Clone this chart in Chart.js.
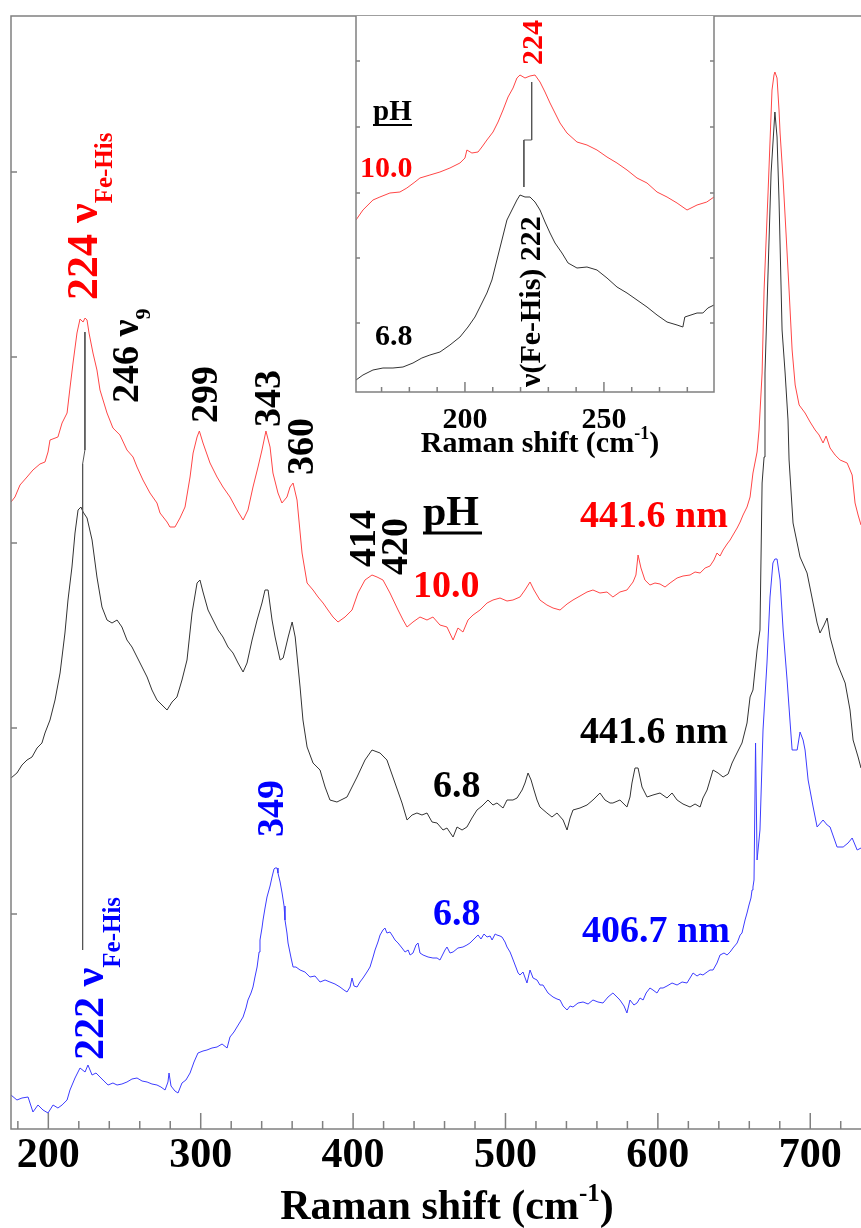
<!DOCTYPE html>
<html>
<head>
<meta charset="utf-8">
<script src="https://cdn.jsdelivr.net/npm/chart.js@4.4.0/dist/chart.umd.min.js"></script>
<style>
  html, body { margin: 0; padding: 0; background: #fff; }
  #wrap { position: relative; width: 861px; height: 1228px; }
  #wrap canvas { position: absolute; left: 0; top: 0; }
</style>
</head>
<body>
<div id="wrap">
  <canvas id="mainChart" width="861" height="1228"></canvas>
  <canvas id="insetChart" width="861" height="1228"></canvas>
</div>
<script>
// Raman shift (cm-1) and intensity (arb. units, spectra stacked with offsets)
const redShift = [175.5,178.1,181.4,186.0,189.9,194.5,197.8,199.8,201.1,206.3,209.0,212.3,214.2,216.2,218.8,220.8,222.8,224.1,225.4,226.7,229.3,231.9,233.9,238.5,242.4,247.0,251.6,255.6,258.2,262.1,266.7,271.3,273.3,277.9,279.8,283.1,286.4,289.7,293.0,295.0,297.6,299.1,301.5,306.1,310.7,314.6,319.2,323.8,327.8,331.0,334.3,337.6,340.2,342.8,345.5,347.4,350.7,353.3,356.6,358.6,360.6,363.2,366.5,369.8,373.7,377.0,380.3,383.5,386.8,390.1,394.7,399.3,403.2,407.8,412.4,415.7,419.6,424.2,429.5,432.8,435.4,439.3,443.9,448.5,452.4,457.0,461.6,465.6,468.8,472.1,475.4,478.7,483.3,487.9,491.8,496.4,501.0,504.9,509.5,512.8,516.1,518.7,522.6,527.2,531.2,535.8,540.4,544.3,548.9,553.5,557.4,562.0,566.6,570.5,575.1,579.7,583.7,585.6,587.0,588.9,591.5,594.8,598.1,601.4,604.7,608.0,612.6,616.5,621.1,624.4,627.7,631.0,634.2,636.8,638.8,640.8,642.8,645.4,647.4,649.3,652.0,654.0,655.9,658.5,660.5,662.4,665.1,666.4,668.4,669.7,672.3,674.9,676.2,676.8,678.2,679.5,680.2,682.2,684.1,686.1,688.1,690.1,692.7,696.6,699.9,703.2,705.8,708.4,710.4,713.0,716.3,719.6,724.2,727.5,729.4,731.4,733.3];
const redInt = [627,632,644,652,659,665,667,677,689,692,706,716,741,766,796,810,807,811,809,796,776,759,739,716,701,694,679,672,662,649,636,626,616,607,602,602,611,622,652,676,692,698,686,666,652,642,632,619,609,619,642,662,679,698,682,656,636,626,632,642,646,629,576,546,539,532,526,519,512,507,512,519,536,549,554,552,549,536,519,509,502,507,512,509,512,504,502,489,501,497,509,514,519,526,529,531,528,529,532,539,547,539,529,524,521,519,525,529,533,537,539,536,537,532,537,539,547,554,574,561,549,544,546,545,542,546,551,553,554,557,556,561,563,569,576,573,579,585,589,594,601,607,614,622,632,656,677,699,756,839,936,1039,1054,1057,1051,1019,996,949,896,839,779,744,724,716,707,699,694,686,693,681,674,669,666,654,626,614,604];

const blackShift = [175.5,179.4,182.7,186.0,189.3,192.6,195.8,197.8,201.1,204.4,207.7,210.9,212.9,215.5,217.5,219.5,221.4,222.8,225.4,228.7,231.9,235.2,238.5,241.8,245.1,248.3,251.6,254.9,258.2,261.5,264.8,268.0,271.3,274.6,277.9,281.2,284.4,287.7,291.0,294.3,297.6,299.5,301.5,304.8,308.1,311.4,314.6,317.9,321.2,324.5,327.8,330.4,333.7,337.0,340.2,342.2,344.2,346.8,348.8,352.1,354.1,357.4,360.0,362.0,365.2,367.1,369.8,373.7,378.3,381.6,384.8,389.4,396.0,402.6,407.8,412.4,417.7,422.2,427.5,432.1,435.4,438.7,441.9,445.2,448.5,451.8,455.1,459.0,461.6,465.6,468.2,471.5,474.7,478.0,481.3,484.6,488.5,491.8,494.4,498.4,501.0,504.9,507.6,510.9,512.8,514.8,516.8,518.7,520.7,522.6,527.2,530.5,533.8,537.8,540.4,542.4,544.3,548.9,553.5,557.4,562.0,565.3,568.6,570.5,575.1,579.7,581.7,583.0,585.0,587.0,589.6,592.9,596.8,601.4,606.0,609.3,612.6,616.5,621.1,624.4,627.7,629.6,632.3,636.2,639.5,642.8,646.1,648.7,650.6,655.2,658.5,660.5,662.4,665.1,667.0,668.4,669.7,670.3,672.3,674.3,676.8,678.2,679.5,681.5,683.5,685.4,686.1,688.7,693.3,697.9,701.2,704.5,706.4,709.1,711.1,713.0,717.6,722.9,726.1,728.1,731.4,733.3];
const blackInt = [351,356,364,369,372,381,386,396,409,429,456,496,529,562,596,619,622,617,611,589,552,522,509,506,509,502,489,482,472,462,452,439,429,424,419,427,432,449,469,516,546,549,537,519,509,499,492,482,476,466,457,466,489,509,526,539,539,509,492,469,471,492,507,492,442,409,382,366,359,342,329,327,332,352,369,379,376,369,346,326,309,314,316,314,316,307,306,299,301,292,302,299,302,311,319,323,329,324,326,321,329,329,331,339,346,356,349,339,329,322,316,312,316,309,299,311,319,321,324,329,336,329,326,326,329,322,332,346,361,361,342,332,334,336,331,336,329,325,322,325,322,331,339,359,356,352,355,366,372,386,406,432,439,479,499,646,672,756,856,956,1017,992,929,799,756,709,669,606,572,556,531,506,496,504,511,492,466,446,419,389,372,361];

const blueShift = [175.5,179.4,182.7,186.7,189.9,193.2,196.5,199.8,203.1,206.3,209.0,212.3,214.2,217.5,220.8,224.1,226.0,228.7,231.3,233.9,236.5,239.2,242.4,245.1,248.3,251.6,254.9,258.2,261.5,264.8,268.0,271.3,273.9,276.6,278.5,279.2,280.5,283.1,285.1,287.7,290.3,293.0,295.6,298.2,301.5,304.1,307.4,310.7,314.0,317.3,319.2,321.8,323.8,325.8,327.8,329.7,331.0,333.0,334.3,335.6,337.0,338.3,338.9,340.2,340.9,342.2,343.5,345.5,346.8,348.1,348.8,350.1,350.7,352.1,353.4,354.7,355.3,356.6,357.3,359.3,360.6,362.5,365.2,368.4,371.7,375.0,378.3,381.6,384.8,388.1,391.4,394.0,396.0,398.0,399.3,400.6,402.6,404.5,406.5,409.1,411.1,413.1,414.4,416.3,417.7,419.6,420.9,422.2,424.2,425.5,427.5,429.5,432.1,434.1,436.1,437.4,439.3,441.3,442.6,443.9,445.9,449.2,452.4,455.1,457.0,460.3,461.6,463.6,465.6,468.8,472.1,474.7,476.7,480.0,482.0,483.9,485.9,487.9,489.9,491.2,493.2,494.4,496.4,497.7,499.7,501.0,503.0,504.3,506.3,508.3,509.5,511.5,514.1,516.1,518.1,520.7,522.6,524.6,527.9,531.2,533.8,535.8,537.8,540.4,542.4,544.3,547.6,550.9,554.2,557.4,560.7,564.0,567.3,570.5,573.2,575.1,577.8,579.7,581.7,584.3,586.3,588.3,590.3,592.3,594.8,596.8,599.4,601.4,603.4,606.0,609.3,612.6,615.9,619.1,621.1,623.1,625.7,627.7,629.6,632.3,634.2,636.2,638.8,640.8,643.4,645.4,647.4,649.3,652.0,654.0,655.2,657.2,658.5,659.8,661.1,661.8,662.4,663.1,664.1,665.1,667.0,669.0,671.6,673.6,675.5,676.8,678.2,680.2,682.2,684.8,686.8,688.1,691.4,693.3,695.3,696.6,698.6,701.9,704.5,708.4,711.1,713.0,717.6,721.6,724.8,727.5,730.8,733.3];
const blueInt = [34,29,31,32,17,24,19,16,24,21,24,29,39,51,61,57,64,54,56,52,48,44,46,44,45,47,50,51,48,47,45,44,42,39,47,56,43,38,36,46,49,56,67,76,78,79,81,82,85,81,92,97,102,107,112,121,129,136,142,152,162,177,189,201,209,221,232,243,252,260,261,261,256,247,236,223,209,196,186,171,162,162,159,157,152,153,147,149,147,145,142,139,137,142,151,143,142,147,151,157,162,172,179,187,194,199,201,196,197,194,189,186,181,177,179,174,176,184,186,176,174,172,171,171,169,179,182,176,177,181,182,184,186,191,194,190,195,192,193,189,195,194,193,192,187,182,177,172,164,156,154,157,146,159,151,149,144,144,136,132,130,129,123,119,123,122,126,127,125,129,127,126,132,136,132,129,123,116,129,124,126,131,129,136,141,139,136,141,141,143,146,144,147,146,151,156,153,155,154,157,159,159,166,174,176,174,177,181,186,194,196,209,216,224,231,239,242,249,386,269,299,399,466,532,566,570,570,549,499,449,406,379,379,397,389,379,349,322,302,309,304,302,282,282,286,291,279,281];

// guide line from the 224 (pH 10.0) band down to the 222 (pH 6.8) band
const markerShift = [224, 224, 222.5, 222.5];
const markerInt = [797, 679, 665, 179];

// inset: expanded view of the Fe-His region
const insetRedShift = [160.8,163.3,166.9,169.4,173.0,176.6,179.1,182.0,183.8,187.4,191.0,194.6,198.2,200.0,200.7,202.5,204.7,206.1,207.9,210.1,211.9,213.7,215.5,217.3,218.7,219.8,221.6,223.4,225.2,227.0,228.8,230.6,232.4,234.2,236.7,240.3,243.9,247.5,251.1,254.7,258.3,261.9,265.5,269.1,272.7,276.3,279.9,283.5,287.0,289.6];
const insetRedInt = [172,182,192,195,199,200,204,210,214,217,220,224,229,234,242,239,240,245,252,260,270,282,295,304,314,317,314,316,317,310,300,289,279,269,259,250,247,242,235,229,222,214,209,200,195,189,182,187,190,195];
const insetBlackShift = [160.8,163.3,166.9,170.5,174.1,177.7,181.3,184.5,187.4,191.0,194.6,198.2,201.1,203.6,205.4,207.9,209.7,211.5,213.3,215.1,216.9,218.7,219.8,221.6,223.4,225.2,227.0,228.8,230.6,232.4,234.9,237.1,240.3,243.9,247.5,251.1,254.7,258.3,261.9,265.5,269.1,272.7,276.3,278.4,279.1,283.5,285.6,287.4,289.6];
const insetBlackInt = [12,17,22,24,24,25,29,34,37,40,47,55,65,75,85,99,112,132,152,172,182,192,197,195,195,190,182,170,159,149,139,129,124,125,122,114,105,99,92,85,77,70,67,65,75,79,79,84,87];
const insetMarkerShift = [224, 224, 221.2, 221.2];
const insetMarkerInt = [310, 252, 252, 205];

// axis ticks
const mainMajorTicks = [200, 300, 400, 500, 600, 700];
const mainMinorTicks = [180, 220, 240, 260, 280, 320, 340, 360, 380, 420, 440, 460, 480, 520, 540, 560, 580, 620, 640, 660, 680, 720];
const mainYTicks = [215, 401, 586, 772, 957];
const insetMajorTicks = [200, 250];
const insetMinorTicks = [170, 180, 190, 210, 220, 230, 240, 260, 270, 280];
const insetYTicks = [69, 134, 199, 265, 331];

const SERIF = '"Liberation Serif", "Times New Roman", serif';
const RED = '#ff0000', BLUE = '#0000ff', BLACK = '#000000';
const FRAME = '#808080';

function pts(xs, ys) { return xs.map((x, i) => ({ x: x, y: ys[i] })); }

function drawParts(ctx, x, y, angle, parts) {
  ctx.save();
  ctx.translate(x, y);
  ctx.rotate(angle);
  ctx.textAlign = 'left';
  ctx.textBaseline = 'alphabetic';
  let cx = 0;
  for (const p of parts) {
    ctx.font = 'bold ' + p.size + 'px ' + SERIF;
    ctx.fillStyle = p.color;
    ctx.fillText(p.text, cx, p.shift || 0);
    cx += ctx.measureText(p.text).width;
  }
  ctx.restore();
}

const UP = -Math.PI / 2;

const mainLabels = [
  { x: 97, y: 300, a: UP, parts: [{ text: '224 ν', size: 44, color: RED }, { text: 'Fe-His', size: 25, shift: 15, color: RED }] },
  { x: 138, y: 403, a: UP, parts: [{ text: '246 ν', size: 38, color: BLACK }, { text: '9', size: 22, shift: 12, color: BLACK }] },
  { x: 217, y: 423, a: UP, parts: [{ text: '299', size: 38, color: BLACK }] },
  { x: 280, y: 427, a: UP, parts: [{ text: '343', size: 38, color: BLACK }] },
  { x: 313, y: 475, a: UP, parts: [{ text: '360', size: 38, color: BLACK }] },
  { x: 375, y: 567, a: UP, parts: [{ text: '414', size: 38, color: BLACK }] },
  { x: 407, y: 575, a: UP, parts: [{ text: '420', size: 38, color: BLACK }] },
  { x: 423, y: 525, a: 0, parts: [{ text: 'pH', size: 42, color: BLACK }] },
  { x: 413, y: 597, a: 0, parts: [{ text: '10.0', size: 38, color: RED }] },
  { x: 580, y: 527, a: 0, parts: [{ text: '441.6 nm', size: 38, color: RED }] },
  { x: 580, y: 743, a: 0, parts: [{ text: '441.6 nm', size: 38, color: BLACK }] },
  { x: 433, y: 797, a: 0, parts: [{ text: '6.8', size: 38, color: BLACK }] },
  { x: 283, y: 837, a: UP, parts: [{ text: '349', size: 38, color: BLUE }] },
  { x: 433, y: 925, a: 0, parts: [{ text: '6.8', size: 38, color: BLUE }] },
  { x: 582, y: 942, a: 0, parts: [{ text: '406.7 nm', size: 38, color: BLUE }] },
  { x: 103, y: 1060, a: UP, parts: [{ text: '222 ν', size: 42, color: BLUE }, { text: 'Fe-His', size: 25, shift: 17, color: BLUE }] }
];

const insetLabels = [
  { x: 542, y: 65, a: UP, parts: [{ text: '224', size: 30, color: RED }] },
  { x: 373, y: 120, a: 0, parts: [{ text: 'pH', size: 29, color: BLACK }] },
  { x: 360, y: 177, a: 0, parts: [{ text: '10.0', size: 30, color: RED }] },
  { x: 375, y: 345, a: 0, parts: [{ text: '6.8', size: 30, color: BLACK }] },
  { x: 540, y: 387, a: UP, parts: [{ text: 'ν(Fe-His) 222', size: 30, color: BLACK }] }
];

function underline(ctx, x1, x2, y, w) {
  ctx.save();
  ctx.strokeStyle = BLACK;
  ctx.lineWidth = w;
  ctx.beginPath();
  ctx.moveTo(x1, y);
  ctx.lineTo(x2, y);
  ctx.stroke();
  ctx.restore();
}

function axisTitle(ctx, cx, baseline, size) {
  const parts = [
    { text: 'Raman shift (cm', size: size, color: BLACK },
    { text: '-1', size: Math.round(size * 0.6), shift: -size * 0.42, color: BLACK },
    { text: ')', size: size, color: BLACK }
  ];
  let w = 0;
  for (const p of parts) {
    ctx.font = 'bold ' + p.size + 'px ' + SERIF;
    w += ctx.measureText(p.text).width;
  }
  drawParts(ctx, cx - w / 2, baseline, 0, parts);
}

const mainFrame = {
  id: 'mainFrame',
  afterDraw(chart) {
    const { ctx, chartArea: a, scales: { x, y } } = chart;
    ctx.save();
    ctx.strokeStyle = FRAME;
    ctx.lineWidth = 1.5;
    ctx.beginPath();
    ctx.moveTo(a.right, a.top);
    ctx.lineTo(a.left, a.top);
    ctx.lineTo(a.left, a.bottom);
    ctx.lineTo(a.right, a.bottom);
    for (const v of mainMajorTicks) {
      const px = x.getPixelForValue(v);
      ctx.moveTo(px, a.bottom);
      ctx.lineTo(px, a.bottom - 16);
    }
    for (const v of mainMinorTicks) {
      const px = x.getPixelForValue(v);
      ctx.moveTo(px, a.bottom);
      ctx.lineTo(px, a.bottom - 8);
    }
    for (const v of mainYTicks) {
      const py = y.getPixelForValue(v);
      ctx.moveTo(a.left, py);
      ctx.lineTo(a.left + 6, py);
    }
    ctx.stroke();

    ctx.fillStyle = BLACK;
    ctx.font = 'bold 42px ' + SERIF;
    ctx.textAlign = 'center';
    ctx.textBaseline = 'alphabetic';
    for (const v of mainMajorTicks) {
      ctx.fillText(String(v), x.getPixelForValue(v), a.bottom + 38);
    }
    ctx.restore();

    axisTitle(ctx, 447, a.bottom + 90, 42);
    for (const l of mainLabels) drawParts(ctx, l.x, l.y, l.a, l.parts);
    underline(ctx, 423, 482, 533, 3);
  }
};

const insetFrame = {
  id: 'insetFrame',
  beforeDatasetsDraw(chart) {
    const { ctx, chartArea: a } = chart;
    ctx.save();
    ctx.fillStyle = '#ffffff';
    ctx.fillRect(a.left, a.top, a.right - a.left, a.bottom - a.top);
    ctx.restore();
  },
  afterDraw(chart) {
    const { ctx, chartArea: a, scales: { x, y } } = chart;
    ctx.save();
    ctx.strokeStyle = FRAME;
    ctx.lineWidth = 1.5;
    ctx.beginPath();
    ctx.moveTo(a.left, a.top);
    ctx.lineTo(a.left, a.bottom);
    ctx.lineTo(a.right, a.bottom);
    ctx.lineTo(a.right, a.top);
    for (const v of insetMajorTicks) {
      const px = x.getPixelForValue(v);
      ctx.moveTo(px, a.bottom);
      ctx.lineTo(px, a.bottom - 10);
    }
    for (const v of insetMinorTicks) {
      const px = x.getPixelForValue(v);
      ctx.moveTo(px, a.bottom);
      ctx.lineTo(px, a.bottom - 5);
    }
    for (const v of insetYTicks) {
      const py = y.getPixelForValue(v);
      ctx.moveTo(a.left, py);
      ctx.lineTo(a.left + 4, py);
      ctx.moveTo(a.right, py);
      ctx.lineTo(a.right - 4, py);
    }
    ctx.stroke();

    ctx.fillStyle = BLACK;
    ctx.font = 'bold 30px ' + SERIF;
    ctx.textAlign = 'center';
    ctx.textBaseline = 'alphabetic';
    for (const v of insetMajorTicks) {
      ctx.fillText(String(v), x.getPixelForValue(v), a.bottom + 36);
    }
    ctx.restore();

    axisTitle(ctx, 540, a.bottom + 60, 30);
    for (const l of insetLabels) drawParts(ctx, l.x, l.y, l.a, l.parts);
    underline(ctx, 373, 412, 125, 2);
  }
};

function lineSet(data, color) {
  return {
    data: data,
    borderColor: color,
    borderWidth: 1,
    pointRadius: 0,
    tension: 0,
    fill: false
  };
}

const baseOptions = (xmin, xmax, ymin, ymax, padding) => ({
  responsive: false,
  animation: false,
  events: [],
  layout: { padding: padding },
  plugins: { legend: { display: false }, tooltip: { enabled: false } },
  scales: {
    x: { type: 'linear', min: xmin, max: xmax, display: false },
    y: { type: 'linear', min: ymin, max: ymax, display: false }
  }
});

new Chart(document.getElementById('mainChart'), {
  type: 'line',
  data: {
    datasets: [
      lineSet(pts(markerShift, markerInt), '#555555'),
      lineSet(pts(redShift, redInt), 'rgb(255,70,70)'),
      lineSet(pts(blackShift, blackInt), '#333333'),
      lineSet(pts(blueShift, blueInt), 'rgb(60,60,255)')
    ]
  },
  options: baseOptions(175.5, 733.3, 0, 1113, { left: 11, top: 16, right: 0, bottom: 99 }),
  plugins: [mainFrame]
});

new Chart(document.getElementById('insetChart'), {
  type: 'line',
  data: {
    datasets: [
      lineSet(pts(insetMarkerShift, insetMarkerInt), '#555555'),
      lineSet(pts(insetRedShift, insetRedInt), 'rgb(255,70,70)'),
      lineSet(pts(insetBlackShift, insetBlackInt), '#333333')
    ]
  },
  options: baseOptions(160.8, 289.6, 0, 376, { left: 356, top: 16, right: 147, bottom: 836 }),
  plugins: [insetFrame]
});
</script>
</body>
</html>
